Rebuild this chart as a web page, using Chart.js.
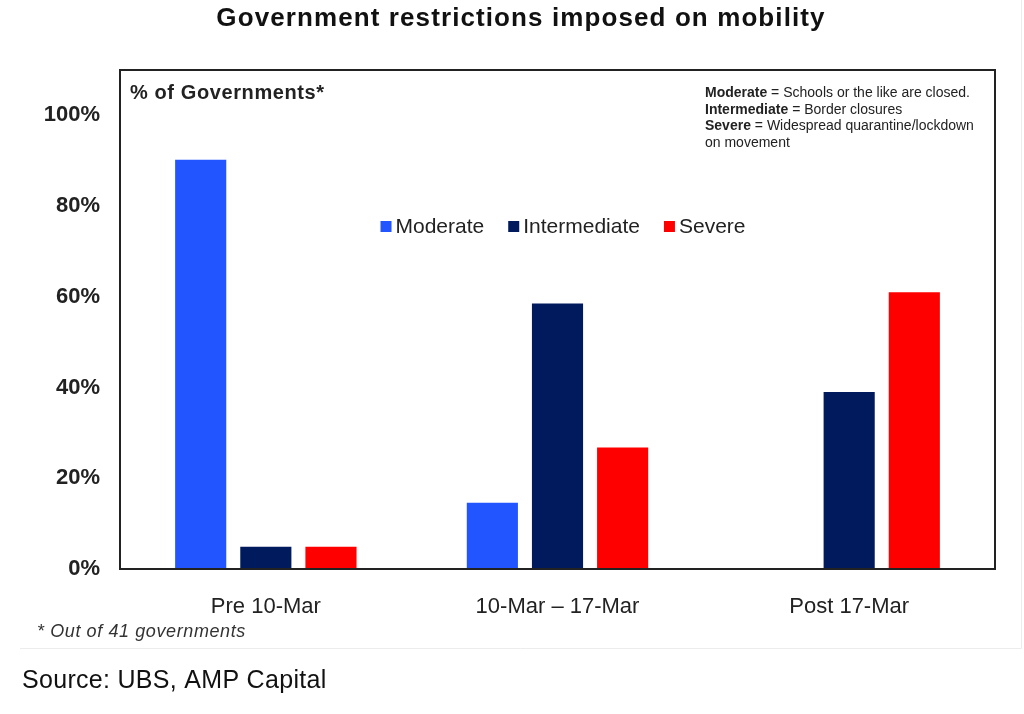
<!DOCTYPE html>
<html>
<head>
<meta charset="utf-8">
<script src="https://cdn.jsdelivr.net/npm/chart.js@4"></script>
<style>
  html, body { margin: 0; padding: 0; background: #fff; }
  #wrap { width: 1024px; height: 714px; }
</style>
</head>
<body>
<div id="wrap"><canvas id="chart" width="1024" height="714"></canvas></div>
<script>
// chart data (share of 41 governments, %)
const periods = ["Pre 10-Mar", "10-Mar \u2013 17-Mar", "Post 17-Mar"];
const moderate = [90.2, 14.6, 0];
const intermediate = [4.9, 58.5, 39.0];
const severe = [4.9, 26.8, 61.0];
const yTicks = [0, 20, 40, 60, 80, 100];

const seriesNames = ["Moderate", "Intermediate", "Severe"];
const seriesColors = ["#2255ff", "#001a5e", "#ff0000"];

const notes = [
  ["Moderate", " = Schools or the like are closed."],
  ["Intermediate", " = Border closures"],
  ["Severe", " = Widespread quarantine/lockdown"],
  ["", "on movement"]
];

const FONT = "'Liberation Sans', Arial, sans-serif";

// extra drawing: title, plot frame, inner legend, notes, footnote, source
const extras = {
  id: "extras",
  afterDatasetsDraw(chart) {
    const { ctx, chartArea: a } = chart;
    ctx.save();

    // faint outer frame of the picture
    ctx.strokeStyle = "#ececec";
    ctx.lineWidth = 1;
    ctx.beginPath();
    ctx.moveTo(20, 648.5);
    ctx.lineTo(1021.5, 648.5);
    ctx.lineTo(1021.5, 0);
    ctx.stroke();

    // box round the plot
    ctx.strokeStyle = "#222";
    ctx.lineWidth = 2;
    ctx.strokeRect(a.left, a.top, a.right - a.left, a.bottom - a.top);

    ctx.textBaseline = "middle";

    // title
    ctx.fillStyle = "#111";
    ctx.textAlign = "center";
    ctx.font = "bold 26px " + FONT;
    ctx.letterSpacing = "1.1px";
    ctx.fillText("Government restrictions imposed on mobility", 521, 19);

    // axis caption
    ctx.textAlign = "left";
    ctx.fillStyle = "#222";
    ctx.font = "bold 20px " + FONT;
    ctx.letterSpacing = "0.6px";
    ctx.fillText("% of Governments*", a.left + 10, 93);
    ctx.letterSpacing = "0px";

    // definitions, top right
    let y = 93;
    notes.forEach(([b, rest]) => {
      let x = 705;
      if (b) {
        ctx.font = "bold 14px " + FONT;
        ctx.fillText(b, x, y);
        x += ctx.measureText(b).width;
      }
      ctx.font = "14px " + FONT;
      ctx.fillText(rest, x, y);
      y += 16.7;
    });

    // legend inside the plot
    ctx.font = "21px " + FONT;
    const gap = 24, box = 11;
    const widths = chart.data.datasets.map(d => box + 4 + ctx.measureText(d.label).width);
    const total = widths.reduce((s, w) => s + w, 0) + gap * (widths.length - 1);
    let lx = 563 - total / 2;
    chart.data.datasets.forEach((d, i) => {
      ctx.fillStyle = d.backgroundColor;
      ctx.fillRect(lx, 221, box, box);
      ctx.fillStyle = "#222";
      ctx.fillText(d.label, lx + box + 4, 227);
      lx += widths[i] + gap;
    });

    // footnote and source
    ctx.fillStyle = "#333";
    ctx.font = "italic 18px " + FONT;
    ctx.letterSpacing = "0.6px";
    ctx.fillText("* Out of 41 governments", 37, 632);
    ctx.fillStyle = "#111";
    ctx.font = "25px " + FONT;
    ctx.letterSpacing = "0.3px";
    ctx.fillText("Source: UBS, AMP Capital", 22, 681);

    ctx.restore();
  }
};

new Chart(document.getElementById("chart").getContext("2d"), {
  type: "bar",
  data: {
    labels: periods,
    datasets: [moderate, intermediate, severe].map((vals, i) => ({
      label: seriesNames[i],
      data: vals,
      backgroundColor: seriesColors[i],
      borderWidth: 0,
      categoryPercentage: 0.67,
      barPercentage: 0.785
    }))
  },
  options: {
    responsive: false,
    animation: false,
    layout: { padding: { left: 0, right: 29, top: 70, bottom: 0 } },
    plugins: {
      legend: { display: false },
      tooltip: { enabled: false },
      title: { display: false }
    },
    scales: {
      x: {
        grid: { display: false },
        border: { display: false },
        ticks: { color: "#222", padding: 17, font: { family: FONT, size: 22 } },
        afterFit: s => { s.height = 145; }
      },
      y: {
        min: 0,
        max: 110,
        grid: { display: false, drawTicks: false },
        border: { display: false },
        afterBuildTicks: s => { s.ticks = yTicks.map(v => ({ value: v })); },
        afterFit: s => { s.width = 120; },
        ticks: {
          color: "#222",
          padding: 20,
          font: { family: FONT, size: 22, weight: "bold" },
          callback: v => v + "%"
        }
      }
    }
  },
  plugins: [extras]
});
</script>
</body>
</html>
